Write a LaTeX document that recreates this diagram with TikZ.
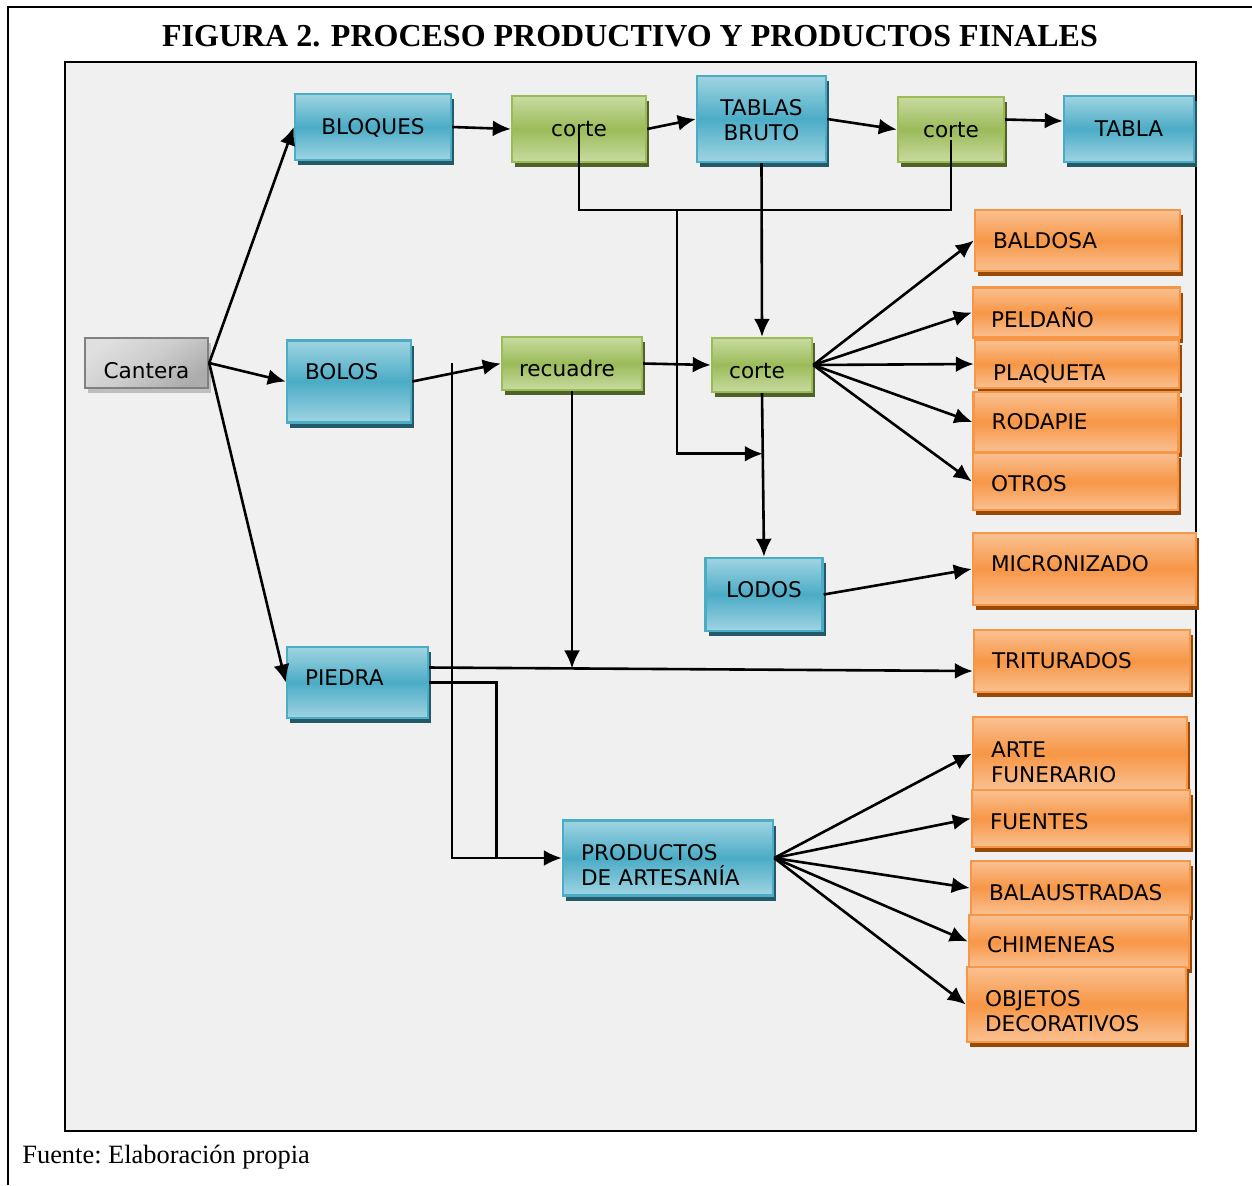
\documentclass[tikz,border=0pt]{standalone}
\usepackage{fontspec}
\setmainfont{Liberation Serif}
\setsansfont{DejaVu Sans}
\usetikzlibrary{arrows.meta,shadows,positioning}

\definecolor{bluelight}{RGB}{160,212,226}
\definecolor{bluemid}{RGB}{75,172,198}
\definecolor{blueshade}{RGB}{35,89,104}
\definecolor{greenlight}{RGB}{200,219,161}
\definecolor{greenmid}{RGB}{155,187,89}
\definecolor{greenshade}{RGB}{79,98,40}
\definecolor{orangelight}{RGB}{250,193,146}
\definecolor{orangemid}{RGB}{247,150,70}
\definecolor{orangeshade}{RGB}{152,72,7}
\definecolor{panel}{RGB}{240,240,240}

\begin{document}
\begin{tikzpicture}[
        x=0.5pt, y=-0.5pt,
        box/.style={draw, line width=1.2pt, inner xsep=9pt, inner ysep=2pt, align=center,
            font=\sffamily\fontsize{10.8}{12.5}\selectfont, text height=7.9pt, text depth=0pt},
        bluebox/.style={box, draw=bluemid, top color=bluelight, bottom color=bluelight, middle color=bluemid,
            drop shadow={shadow xshift=1.5pt, shadow yshift=-2.5pt, fill=blueshade, opacity=1}},
        greenbox/.style={box, draw=greenmid, top color=greenlight, bottom color=greenlight, middle color=greenmid,
            drop shadow={shadow xshift=1.5pt, shadow yshift=-2.5pt, fill=greenshade, opacity=1}},
        orangebox/.style={box, align=left, draw=orangemid, top color=orangelight, bottom color=orangelight, middle color=orangemid,
            drop shadow={shadow xshift=1.5pt, shadow yshift=-2.5pt, fill=orangeshade, opacity=1}},
        graybox/.style={box, draw=gray, top color=gray!25, bottom color=gray!65, middle color=gray!40, shading angle=35,
            drop shadow={shadow xshift=1.5pt, shadow yshift=-2.5pt, fill=gray!50, opacity=1}},
        link/.style={line width=1pt},
        flow/.style={-{Latex[length=9pt,width=8pt]}, line width=1.3pt}
    ]
    \useasboundingbox (0,0) rectangle (1252,1185);

    % Frame
    \draw[line width=1pt] (8,1185) -- (8,7) -- (1252,7);
    \draw[fill=panel, line width=1pt] (65,62) rectangle (1196,1131);
    \node[font=\rmfamily\bfseries\fontsize{16}{19}\selectfont, inner sep=0pt] (titulo) at (630,36)
        {FIGURA 2. PROCESO PRODUCTIVO Y PRODUCTOS FINALES};
    \node[font=\rmfamily\fontsize{13.2}{15}\selectfont, inner sep=0pt, anchor=base west] (fuente) at (22,1163)
        {\frenchspacing Fuente: Elaboración propia};

    % Nodes
    \node[graybox, minimum width=61.5pt, minimum height=25pt, text height=15.9pt] (cantera) at (146.5,363) {Cantera};
    \node[bluebox, minimum width=78pt, minimum height=33pt] (bloques) at (373,127) {BLOQUES};
    \node[greenbox, minimum width=67pt, minimum height=33pt] (corteA) at (579,129) {corte};
    \node[bluebox, text width=46.5pt, minimum height=43pt, text height=0pt, text depth=3.8pt] (tablas) at (761.5,119) {TABLAS\\BRUTO};
    \node[greenbox, minimum width=53pt, minimum height=32.5pt] (corteB) at (951,129.5) {corte};
    \node[bluebox, minimum width=65pt, minimum height=33pt] (tabla) at (1129,129) {TABLA};
    \node[bluebox, align=left, text width=44pt, minimum height=41pt, text depth=9.5pt] (bolos) at (349,381.5) {BOLOS};
    \node[greenbox, minimum width=70pt, minimum height=26.5pt, text height=13.4pt] (recuadre) at (572,363.5) {\hspace*{-5pt}recuadre};
    \node[greenbox, minimum width=50pt, minimum height=27pt, text height=13.9pt] (corteC) at (762,365) {\hspace*{-5pt}corte};
    \node[bluebox, minimum width=58.5pt, minimum height=36.5pt, text depth=4.5pt] (lodos) at (764,594.5) {LODOS};
    \node[bluebox, align=left, text width=52.5pt, minimum height=35.5pt, text depth=4.5pt] (piedra) at (357.5,682.5) {PIEDRA};
    \node[bluebox, align=left, text width=87pt, minimum height=37.5pt, text height=2.9pt] (productos) at (668,858) {PRODUCTOS\\DE ARTESANÍA};

    \node[orangebox, text width=84.5pt, minimum height=30.5pt] (baldosa) at (1077.5,240.5) {BALDOSA};
    \node[orangebox, text width=85.5pt, minimum height=25pt, text height=15.4pt] (peldano) at (1076.5,312.5) {PELDAÑO};
    \node[orangebox, text width=84pt, minimum height=24pt, text height=16.9pt] (plaqueta) at (1077,364) {PLAQUETA};
    \node[orangebox, text width=84.5pt, minimum height=30pt] (rodapie) at (1076,422) {RODAPIE};
    \node[orangebox, text width=84.5pt, minimum height=28.5pt, text height=10.4pt] (otros) at (1075.5,481.5) {OTROS};
    \node[orangebox, text width=93.5pt, minimum height=36pt, text depth=5pt] (micronizado) at (1084.5,569) {MICRONIZADO};
    \node[orangebox, text width=90pt, minimum height=31pt] (triturados) at (1082,661) {TRITURADOS};
    \node[orangebox, text width=89pt, minimum height=36.5pt, text height=4.4pt] (arte) at (1080,753.5) {ARTE\\FUNERARIO};
    \node[orangebox, text width=91pt, minimum height=28.5pt, text height=11.4pt] (fuentes) at (1081,818.5) {FUENTES};
    \node[orangebox, text width=91.5pt, minimum height=27pt, text height=12.9pt] (balaustradas) at (1080.5,888) {BALAUSTRADAS};
    \node[orangebox, text width=92pt, minimum height=26.5pt, text height=11.4pt] (chimeneas) at (1079,941.5) {CHIMENEAS};
    \node[orangebox, text width=91.5pt, minimum height=37.5pt, text height=2.4pt] (objetos) at (1076.5,1004.5) {OBJETOS\\DECORATIVOS};

    \coordinate (junc) at (677,210);

    % Edges
    \draw[flow] (cantera.east) -- (bloques.west);
    \draw[flow] (cantera.east) -- (bolos.west);
    \draw[flow] (cantera.east) -- (piedra.west);
    \draw[flow] (bloques.east) -- (corteA.west);
    \draw[flow] (corteA.east) -- (tablas.west);
    \draw[flow] (tablas.east) -- (corteB.west);
    \draw[flow] ([yshift=5pt]corteB.east) -- ([yshift=4pt]tabla.west);
    \draw[flow] (tablas.south) -- (corteC.north);
    \draw[link] ([yshift=-2pt]corteA.center) |- (junc) -| ([yshift=-5pt]corteB.center);
    \draw[flow] (bolos.east) -- coordinate[pos=0.45] (cruce) (recuadre.west);
    \draw[flow] (recuadre.east) -- (corteC.west);
    \draw[flow] (corteC.south) -- coordinate[pos=0.37] (union) (lodos.north);
    \draw[flow] (junc) |- (union);
    \foreach \dest in {baldosa, peldano, plaqueta, rodapie, otros}
        \draw[flow] (corteC.east) -- (\dest.west);
    \draw[flow] (lodos.east) -- (micronizado.west);
    \draw[flow] ([yshift=7.5pt]piedra.east) -- coordinate[pos=0.26] (caida) ([yshift=-5pt]triturados.west);
    \draw[flow] (recuadre.south) -- (recuadre.south |- caida);
    \draw[flow] (piedra.east) -- ++(67,0) coordinate (codo) |- (productos.west);
    \draw[link] ([yshift=5pt]cruce) |- (codo |- productos.west);
    \foreach \dest in {arte, fuentes, balaustradas, chimeneas, objetos}
        \draw[flow] (productos.east) -- (\dest.west);
\end{tikzpicture}
\end{document}
